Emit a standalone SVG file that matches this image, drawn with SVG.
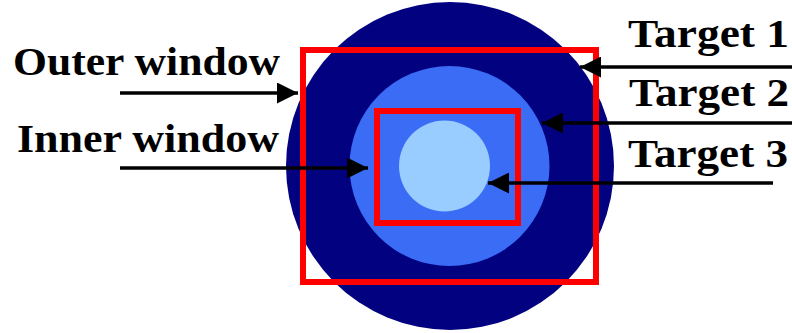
<svg xmlns="http://www.w3.org/2000/svg" width="792" height="333" viewBox="0 0 792 333">
<style>
.lbl{font-family:"Liberation Serif","Times New Roman",serif;font-weight:bold;font-size:40px;fill:#000}
.win{fill:none;stroke:#ff0000;stroke-width:6}
.con{stroke:#000;stroke-width:3.5;fill:none}
</style>
<defs>
<marker id="ah" viewBox="0 0 10 10" refX="10" refY="5" markerWidth="6" markerHeight="6" markerUnits="strokeWidth" orient="auto">
<path d="M0,0 L10,5 L0,10 z" fill="#000"/>
</marker>
</defs>
<rect width="792" height="333" fill="#fff"/>
<g id="target1"><circle cx="450" cy="166" r="164" fill="#020280"/></g>
<g id="target2"><circle cx="449.5" cy="166" r="100" fill="#3a6cf6"/></g>
<g id="target3"><circle cx="444.5" cy="166" r="45.5" fill="#99ccff"/></g>
<g id="outer-window"><rect class="win" x="303" y="50" width="293" height="232"/></g>
<g id="inner-window"><rect class="win" x="377" y="111" width="141" height="112"/></g>
<g id="labels">
<text class="lbl" x="13" y="75" textLength="267" lengthAdjust="spacingAndGlyphs">Outer window</text>
<text class="lbl" x="17" y="152" textLength="262" lengthAdjust="spacingAndGlyphs">Inner window</text>
<text class="lbl" x="628" y="47" textLength="161" lengthAdjust="spacingAndGlyphs">Target 1</text>
<text class="lbl" x="629" y="106" textLength="160" lengthAdjust="spacingAndGlyphs">Target 2</text>
<text class="lbl" x="628" y="167" textLength="160" lengthAdjust="spacingAndGlyphs">Target 3</text>
</g>
<g id="connectors">
<line class="con" x1="120" y1="93" x2="298" y2="93" marker-end="url(#ah)"/>
<line class="con" x1="120" y1="168" x2="368" y2="168" marker-end="url(#ah)"/>
<line class="con" x1="792" y1="67" x2="580" y2="67" marker-end="url(#ah)"/>
<line class="con" x1="792" y1="123" x2="542" y2="123" marker-end="url(#ah)"/>
<line class="con" x1="773" y1="183" x2="488" y2="183" marker-end="url(#ah)"/>
</g>
</svg>
